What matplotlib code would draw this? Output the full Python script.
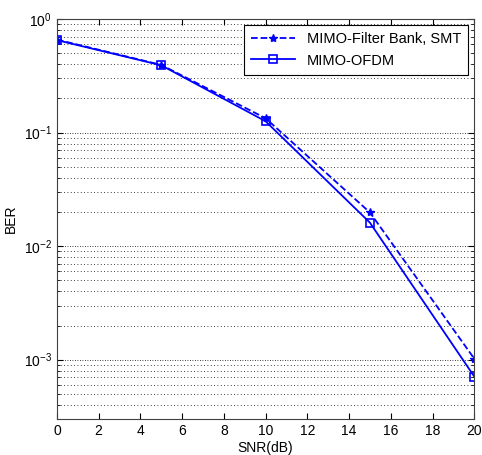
import numpy as np
import matplotlib
matplotlib.use('Agg')
import matplotlib.pyplot as plt
from matplotlib.ticker import LogLocator, NullFormatter

# Data
snr_db = [0, 5, 10, 15, 20]
ber_smt = [0.66, 0.395, 0.134, 0.0198, 0.00102]
ber_ofdm = [0.653, 0.392, 0.126, 0.0161, 0.00071]

plt.rcParams['font.family'] = ['Liberation Sans', 'DejaVu Sans']
plt.rcParams['font.size'] = 10

fig = plt.figure(figsize=(4.82, 4.55), dpi=100)
ax = fig.add_axes([0.118, 0.079, 0.866, 0.879])

ax.semilogy(snr_db, ber_smt, color='#0000ff', linestyle='--', linewidth=1.3,
            marker='*', markersize=6, label='MIMO-Filter Bank, SMT')
ax.semilogy(snr_db, ber_ofdm, color='#0000ff', linestyle='-', linewidth=1.3,
            marker='s', markersize=6, markerfacecolor='none', markeredgewidth=1.2,
            label='MIMO-OFDM')

ax.set_xlim(0, 20)
ax.set_ylim(3e-4, 1)
ax.set_xticks(np.arange(0, 21, 2))
ax.yaxis.set_major_locator(LogLocator(base=10, numticks=10))
ax.yaxis.set_minor_locator(LogLocator(base=10, subs=np.arange(2, 10), numticks=20))
ax.yaxis.set_minor_formatter(NullFormatter())

ax.grid(True, which='major', axis='y', linestyle=(0, (1, 2)), color='black', linewidth=0.6)
ax.grid(True, which='minor', axis='y', linestyle=(0, (1, 3)), color='black', linewidth=0.6)
ax.tick_params(which='both', direction='in', top=True, right=True, length=4)
ax.tick_params(which='minor', length=2)
for s in ax.spines.values():
    s.set_color('#404040')

ax.set_xlabel('SNR(dB)', labelpad=2)
ax.set_ylabel('BER', labelpad=4)

leg = ax.legend(loc='upper right', fancybox=False, framealpha=1, edgecolor='black',
                handlelength=3, borderaxespad=0.4, borderpad=0.5, fontsize=10.5)
leg.get_frame().set_linewidth(0.8)

fig.savefig('out.png', dpi=100)
